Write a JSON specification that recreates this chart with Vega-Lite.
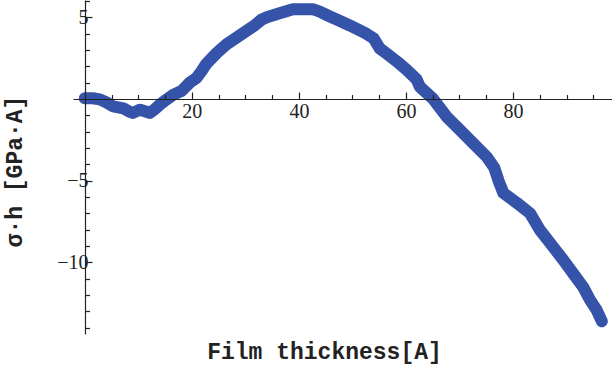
{
  "$schema": "https://vega.github.io/schema/vega-lite/v6.json",
  "autosize": "none",
  "width": 539,
  "height": 334,
  "padding": {"left": 73, "top": 0, "right": 0, "bottom": 38},
  "background": "white",
  "config": {"view": {"stroke": null}},
  "data": {"values": [
    {"x": 0, "y": 0.05}, {"x": 1.5, "y": 0.05}, {"x": 2.8, "y": -0.02}, {"x": 4, "y": -0.2},
    {"x": 5.3, "y": -0.45}, {"x": 7.2, "y": -0.57}, {"x": 8.2, "y": -0.75}, {"x": 9.0, "y": -0.85},
    {"x": 10.3, "y": -0.65}, {"x": 11.2, "y": -0.75}, {"x": 12.1, "y": -0.85}, {"x": 13, "y": -0.65},
    {"x": 14.0, "y": -0.35}, {"x": 15.2, "y": -0.05}, {"x": 16.5, "y": 0.25}, {"x": 18.1, "y": 0.5},
    {"x": 19.6, "y": 1.0}, {"x": 20.9, "y": 1.3}, {"x": 21.8, "y": 1.7}, {"x": 22.7, "y": 2.15},
    {"x": 24.6, "y": 2.8}, {"x": 26.5, "y": 3.35}, {"x": 29.0, "y": 3.9}, {"x": 31.5, "y": 4.45},
    {"x": 33, "y": 4.85}, {"x": 34.0, "y": 5.0}, {"x": 36.4, "y": 5.25}, {"x": 38.9, "y": 5.5},
    {"x": 40.2, "y": 5.5}, {"x": 42.6, "y": 5.5}, {"x": 43.9, "y": 5.35}, {"x": 45.8, "y": 5.05},
    {"x": 47.5, "y": 4.8}, {"x": 49.5, "y": 4.5}, {"x": 52.6, "y": 4.0}, {"x": 54.0, "y": 3.7},
    {"x": 55.1, "y": 3.1}, {"x": 56.5, "y": 2.75}, {"x": 58.3, "y": 2.3}, {"x": 60.1, "y": 1.8}, {"x": 62.0, "y": 1.2},
    {"x": 62.6, "y": 0.75}, {"x": 65.1, "y": 0.0}, {"x": 67.6, "y": -1.08}, {"x": 70.1, "y": -1.9},
    {"x": 72.6, "y": -2.72}, {"x": 75.1, "y": -3.54}, {"x": 76.5, "y": -4.2}, {"x": 77.3, "y": -5.0},
    {"x": 78.2, "y": -5.75}, {"x": 80.7, "y": -6.35}, {"x": 83.2, "y": -7.0}, {"x": 85.0, "y": -8.0},
    {"x": 87.5, "y": -9.05}, {"x": 89.4, "y": -9.85}, {"x": 91.3, "y": -10.7}, {"x": 93.1, "y": -11.5},
    {"x": 94.4, "y": -12.3}, {"x": 95.6, "y": -12.9}, {"x": 96.6, "y": -13.6}
  ]},
  "mark": {"type": "line", "color": "#3553a8", "strokeWidth": 12, "strokeCap": "round", "strokeJoin": "round"},
  "encoding": {
    "x": {
      "field": "x", "type": "quantitative",
      "scale": {"domain": [-2.2, 98.5], "nice": false, "zero": false},
      "axis": {
        "orient": "bottom", "offset": -235, "zindex": 1, "grid": false,
        "values": [5, 10, 15, 20, 25, 30, 35, 40, 45, 50, 55, 60, 65, 70, 75, 80, 85, 90, 95],
        "domainColor": "#222", "domainWidth": 1.2,
        "tickColor": "#222", "tickWidth": 1.2,
        "tickSize": {"condition": {"test": "datum.value % 20 === 0", "value": -7}, "value": -4.5},
        "labelExpr": "datum.value % 20 === 0 ? datum.label : ''",
        "labelFont": "Liberation Serif", "labelFontSize": 20, "labelColor": "#222",
        "labelPadding": 9,
        "title": "Film thickness[A]",
        "titleFont": "Liberation Mono", "titleFontWeight": "bold", "titleFontSize": 23, "titleColor": "#222",
        "titleX": 251, "titleY": 259, "titleBaseline": "alphabetic", "titleAlign": "center"
      }
    },
    "y": {
      "field": "y", "type": "quantitative",
      "scale": {"domain": [-14.38, 6.06], "nice": false, "zero": false},
      "axis": {
        "orient": "left", "offset": -12, "zindex": 1, "grid": false,
        "values": [-14, -13, -12, -11, -10, -9, -8, -7, -6, -5, -4, -3, -2, -1, 1, 2, 3, 4, 5, 6],
        "domainColor": "#222", "domainWidth": 1.2,
        "tickColor": "#222", "tickWidth": 1.2,
        "tickSize": {"condition": {"test": "datum.value % 5 === 0", "value": -7}, "value": -4.5},
        "labelExpr": "datum.value % 5 === 0 ? datum.label : ''",
        "labelFont": "Liberation Serif", "labelFontSize": 20, "labelColor": "#222",
        "labelPadding": 4,
        "title": "σ·h [GPa·A]",
        "titleFont": "Liberation Mono", "titleFontWeight": "bold", "titleFontSize": 23, "titleColor": "#222",
        "titleX": -71, "titleY": 171, "titleAngle": -90, "titleBaseline": "middle", "titleAlign": "center"
      }
    }
  }
}
